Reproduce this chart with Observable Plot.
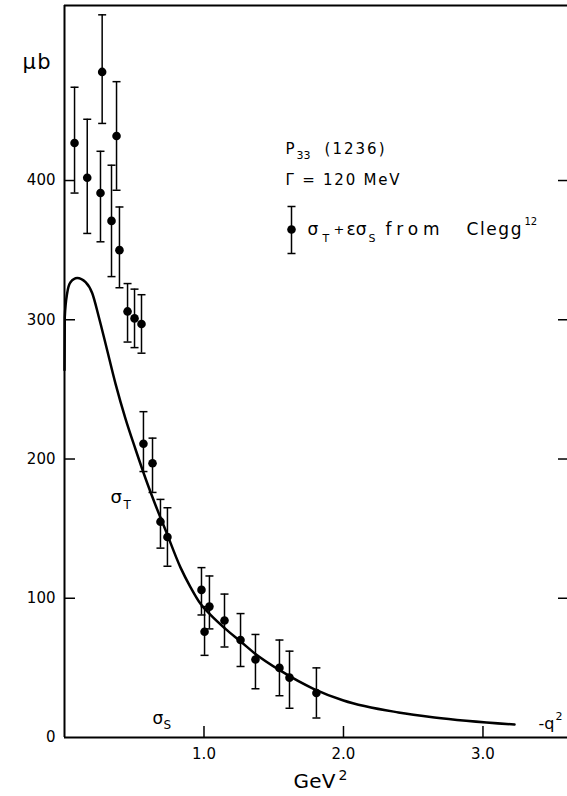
<!DOCTYPE html>
<html>
<head>
<meta charset="utf-8">
<script src="https://cdn.jsdelivr.net/npm/d3@7"></script>
<script src="https://cdn.jsdelivr.net/npm/@observablehq/plot@0.6"></script>
<style>
  html, body { margin: 0; padding: 0; background: #fff; }
  #chart svg { display: block; }
</style>
</head>
<body>
<div id="chart"></div>
<script>
// ---- Data ----
// measured points: -q^2 (GeV^2), sigma_T + eps*sigma_S (μb), error bar ends
const q2     = [0.072, 0.163, 0.270, 0.258, 0.337, 0.373, 0.394, 0.452, 0.502, 0.552, 0.566, 0.631, 0.688, 0.738, 0.982, 1.004, 1.039, 1.147, 1.262, 1.369, 1.541, 1.613, 1.806];
const sigma  = [427, 402, 478, 391, 371, 432, 350, 306, 301, 297, 211, 197, 155, 144, 106, 76, 94, 84, 70, 56, 50, 43, 32];
const errHi  = [467, 444, 519, 421, 411, 471, 381, 326, 322, 318, 234, 215, 171, 165, 122, 94, 116, 103, 89, 74, 70, 62, 50];
const errLo  = [391, 362, 441, 356, 331, 393, 323, 284, 280, 276, 191, 176, 136, 123, 88, 59, 78, 65, 51, 35, 30, 21, 14];

// theoretical sigma_T curve
const curveQ2    = [0, 0.002, 0.019, 0.043, 0.091, 0.151, 0.199, 0.246, 0.294, 0.366, 0.437, 0.509, 0.581, 0.652, 0.724, 0.832, 0.903, 0.975, 1.047, 1.154, 1.262, 1.369, 1.548, 1.785, 2.0, 2.394, 2.652, 3.226];
const curveSigma = [264, 302, 319, 327, 330, 327, 319, 302, 283, 254, 229, 207, 186, 167, 149, 122, 108, 96, 88, 78, 69, 60, 48, 35, 26.6, 18, 14.4, 9.3];

const yTicks = [0, 100, 200, 300, 400];
const xTicks = [1, 2, 3];
const xTickLabels = ["1.0", "2.0", "3.0"];

// ---- Layout ----
const W = 567, H = 796;
const mL = 64, mR = 0, mT = 5, mB = 59;
const xMax = 3.606, yMax = 525.7;
const innerW = W - mL - mR, innerH = H - mT - mB;
const FONT = "DejaVu Sans";

const points = q2.map((q, i) => ({q, s: sigma[i], hi: errHi[i], lo: errLo[i]}));
const curve = curveQ2.map((q, i) => ({q, s: curveSigma[i]}));

const cap = {draw(ctx) { ctx.moveTo(-4, 0); ctx.lineTo(4, 0); }};
const legendBar = {draw(ctx) {
  ctx.moveTo(0, -23); ctx.lineTo(0, 24);
  ctx.moveTo(-4, -23); ctx.lineTo(4, -23);
  ctx.moveTo(-4, 24); ctx.lineTo(4, 24);
}};

// annotation text placed by pixel baseline position
function label(text, px, py, size = 15) {
  return Plot.text([text], {
    text: d => d, frameAnchor: "top-left", dx: px - mL, dy: py - mT,
    textAnchor: "start", lineAnchor: "bottom", fontSize: size, fontFamily: FONT, fill: "black"
  });
}
const textWidths = {"(1236)": 60, "Γ = 120 MeV": 114, "from": 54, "Clegg": 55, "GeV": 42, "μb": 28};

const chart = Plot.plot({
  width: W, height: H,
  marginLeft: mL, marginRight: mR, marginTop: mT, marginBottom: mB,
  style: {background: "white", color: "black", fontFamily: FONT},
  x: {domain: [0, xMax]},
  y: {domain: [0, yMax]},
  marks: [
    // frame: left, bottom, top
    Plot.ruleX([0], {strokeWidth: 2}),
    Plot.ruleY([0], {strokeWidth: 2}),
    Plot.ruleY([yMax], {strokeWidth: 2}),
    // inward tick marks
    Plot.ruleY(yTicks.filter(d => d > 0), {insetRight: innerW - 11, strokeWidth: 1.5}),
    Plot.ruleY(yTicks.filter(d => d > 0), {insetLeft: innerW - 9, strokeWidth: 1.5}),
    Plot.ruleX(xTicks, {insetTop: innerH - 11, strokeWidth: 1.5}),
    // axes labels
    Plot.axisY(yTicks, {anchor: "left", tickSize: 0, tickPadding: 9, fontSize: 15, label: null}),
    Plot.axisX(xTicks, {anchor: "bottom", tickSize: 0, tickPadding: 11, fontSize: 15, label: null,
      tickFormat: d => xTickLabels[xTicks.indexOf(d)]}),
    // theory curve
    Plot.line(curve, {x: "q", y: "s", curve: "monotone-x", strokeWidth: 2.5}),
    // error bars
    Plot.ruleX(points, {x: "q", y1: "lo", y2: "hi", strokeWidth: 1.5}),
    Plot.dot(points, {x: "q", y: "hi", symbol: cap, stroke: "black", fill: "none", strokeWidth: 1.5}),
    Plot.dot(points, {x: "q", y: "lo", symbol: cap, stroke: "black", fill: "none", strokeWidth: 1.5}),
    Plot.dot(points, {x: "q", y: "s", r: 4.3, fill: "black", stroke: "none"}),
    // legend block
    label("P", 285, 153),
    label("33", 296, 158, 11),
    label("(1236)", 324, 153),
    label("Γ = 120 MeV", 285, 184),
    Plot.dot([0], {frameAnchor: "top-left", dx: 291 - mL, dy: 229 - mT, symbol: legendBar, stroke: "black", fill: "none", strokeWidth: 1.5}),
    Plot.dot([0], {frameAnchor: "top-left", dx: 291 - mL, dy: 229 - mT, r: 4.3, fill: "black", stroke: "none"}),
    label("σ", 307, 234, 17),
    label("T", 322, 241, 11),
    label("+", 333, 233, 13),
    label("εσ", 346, 234, 17),
    label("S", 368, 241, 11),
    label("from", 385, 234, 17),
    label("Clegg", 466, 234, 17),
    label("12", 524, 224, 10),
    // curve labels
    label("σ", 110, 502, 18),
    label("T", 123, 508, 12),
    label("σ", 152, 723, 17),
    label("S", 163, 728, 12),
    label("-q", 538, 728, 16),
    label("2", 555, 719, 11),
    // axis titles
    label("μb", 22, 68, 21),
    label("GeV", 293, 787, 20),
    label("2", 338, 779, 14)
  ]
});

d3.select(chart).selectAll("text").each(function() {
  const w = textWidths[this.textContent];
  if (w) { this.setAttribute("textLength", w); this.setAttribute("lengthAdjust", "spacing"); }
});

document.getElementById("chart").appendChild(chart);
</script>
</body>
</html>
